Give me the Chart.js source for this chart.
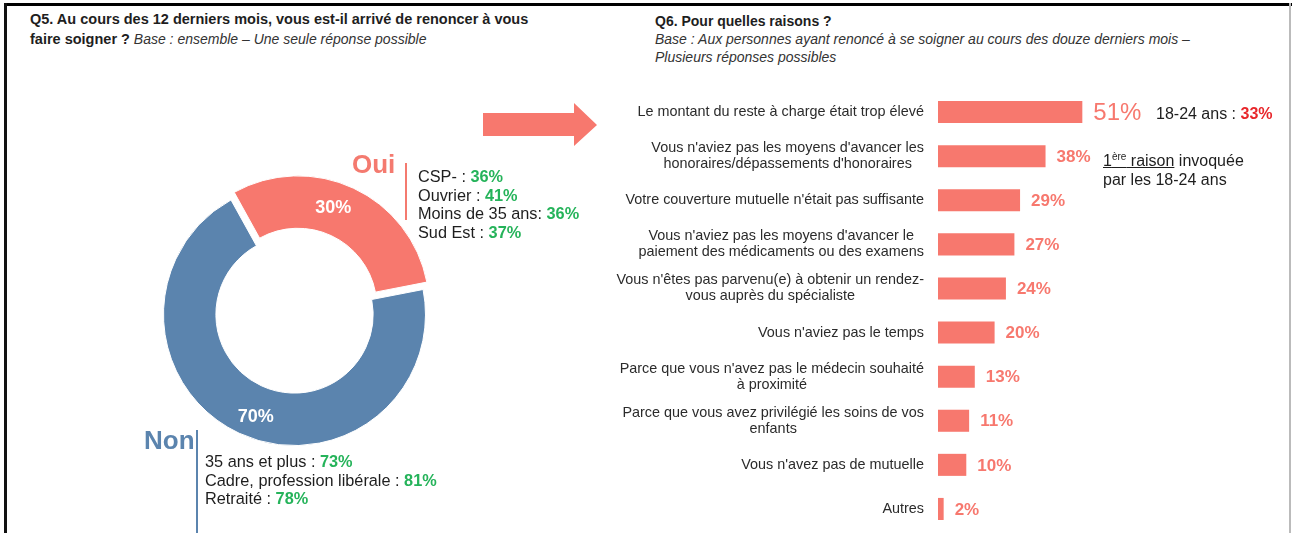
<!DOCTYPE html>
<html lang="fr">
<head>
<meta charset="utf-8">
<title>Renoncement aux soins</title>
<script src="https://cdn.jsdelivr.net/npm/chart.js@4.4.1/dist/chart.umd.min.js"></script>
<style>
    body { margin: 0; background: #fff; font-family: Arial, "Liberation Sans", sans-serif; }
    #page { position: relative; width: 1292px; height: 533px; overflow: hidden; background: #fff; }
    .frame-top { position: absolute; left: 4px; top: 3px; width: 1288px; height: 3px; background: #000; }
    .frame-left { position: absolute; left: 4px; top: 3px; width: 3px; height: 530px; background: #111; }
    .frame-right { position: absolute; left: 1289px; top: 3px; width: 2px; height: 530px; background: #bbb; }
    .t { position: absolute; white-space: nowrap; color: #1e1e1e; }
    .title { font-size: 14px; line-height: 19px; }
    .title b { font-weight: bold; }
    .title i { color: #333; }
    .big { font-size: 26px; font-weight: bold; }
    .note { font-size: 16.3px; line-height: 18.7px; }
    .g { color: #25b35a; font-weight: bold; }
    .r { color: #e8262b; font-weight: bold; }
    canvas { position: absolute; }
</style>
</head>
<body>
<div id="page">
    <div class="frame-top"></div>
    <div class="frame-left"></div>
    <div class="frame-right"></div>

    <div class="t title" style="left:30px; top:9px; line-height:20px;">
        <b style="font-size:14.5px;">Q5. Au cours des 12 derniers mois, vous est-il arrivé de renoncer à vous</b><br>
        <b style="font-size:14.5px;">faire soigner ?</b> <i>Base : ensemble – Une seule réponse possible</i>
    </div>
    <div class="t title" style="left:655px; top:12px; line-height:18px;">
        <b>Q6. Pour quelles raisons ?</b><br>
        <i>Base : Aux personnes ayant renoncé à se soigner au cours des douze derniers mois –</i><br>
        <i>Plusieurs réponses possibles</i>
    </div>

    <!-- fleche Q5 -> Q6 -->
    <svg style="position:absolute; left:0; top:0;" width="1292" height="533">
        <polygon points="483,113 574,113 574,103 597,125 574,146 574,136 483,136" fill="#f7786e"/>
    </svg>

    <canvas id="donut-chart" width="295" height="295" style="left:147px; top:167px;"></canvas>
    <canvas id="reasons-chart" width="692" height="448" style="left:600px; top:85px;"></canvas>

    <!-- annotations Oui -->
    <div class="t big" style="left:352px; top:149px; color:#f47a6f;">Oui</div>
    <div style="position:absolute; left:405px; top:163px; width:2px; height:57px; background:#f47a6f;"></div>
    <div class="t note" style="left:418px; top:167px;">
        CSP- : <span class="g">36%</span><br>
        Ouvrier : <span class="g">41%</span><br>
        Moins de 35 ans: <span class="g">36%</span><br>
        Sud Est : <span class="g">37%</span>
    </div>

    <!-- annotations Non -->
    <div class="t big" style="left:144px; top:425px; color:#5b84ae;">Non</div>
    <div style="position:absolute; left:196px; top:430px; width:2px; height:103px; background:#5b84ae;"></div>
    <div class="t note" style="left:205px; top:452px;">
        35 ans et plus : <span class="g">73%</span><br>
        Cadre, profession libérale : <span class="g">81%</span><br>
        Retraité : <span class="g">78%</span>
    </div>

    <!-- annotations Q6 -->
    <div class="t note" style="left:1156px; top:105px; font-size:16px;">18-24 ans : <span class="r">33%</span></div>
    <div class="t note" style="left:1103px; top:147px; font-size:16px; line-height:19px;">
        <u>1<sup style="font-size:10px;">ère</sup> raison</u> invoquée<br>
        par les 18-24 ans
    </div>
</div>

<script>
// Q5 - renoncement aux soins
const donutLabels = ['Oui', 'Non'];
const donutValues = [30, 70];
const donutColors = ['#f7786e', '#5b84ae'];

// Q6 - raisons du renoncement
const reasonLabels = [
    ['Le montant du reste à charge était trop élevé'],
    ["Vous n'aviez pas les moyens d'avancer les", "honoraires/dépassements d'honoraires"],
    ["Votre couverture mutuelle n'était pas suffisante"],
    ["Vous n'aviez pas les moyens d'avancer le", 'paiement des médicaments ou des examens'],
    ["Vous n'êtes pas parvenu(e) à obtenir un rendez-", 'vous auprès du spécialiste'],
    ["Vous n'aviez pas le temps"],
    ["Parce que vous n'avez pas le médecin souhaité", 'à proximité'],
    ['Parce que vous avez privilégié les soins de vos', 'enfants'],
    ["Vous n'avez pas de mutuelle"],
    ['Autres']
];
const reasonValues = [51, 38, 29, 27, 24, 20, 13, 11, 10, 2];

const SALMON = '#f7786e';

// Pourcentages blancs dans les parts du donut
const donutLabelPlugin = {
    id: 'donutLabels',
    afterDatasetsDraw(chart) {
        const ctx = chart.ctx;
        const meta = chart.getDatasetMeta(0);
        ctx.save();
        ctx.font = 'bold 18px Arial, "Liberation Sans", sans-serif';
        ctx.fillStyle = '#fff';
        ctx.textAlign = 'center';
        ctx.textBaseline = 'middle';
        meta.data.forEach((arc, i) => {
            const p = arc.getProps(['x', 'y', 'startAngle', 'endAngle', 'innerRadius', 'outerRadius'], true);
            const mid = (p.startAngle + p.endAngle) / 2 - 0.08;
            const r = p.innerRadius + (p.outerRadius - p.innerRadius) * 0.62;
            ctx.fillText(donutValues[i] + '%', p.x + Math.cos(mid) * r, p.y + Math.sin(mid) * r - 2);
        });
        ctx.restore();
    }
};

// Libelles des raisons (centres ligne a ligne, bloc cale a droite) + valeurs
const reasonTextPlugin = {
    id: 'reasonText',
    afterDatasetsDraw(chart) {
        const ctx = chart.ctx;
        const yScale = chart.scales.y;
        const meta = chart.getDatasetMeta(0);
        const rightEdge = yScale.right - 14;
        ctx.save();
        ctx.textBaseline = 'middle';

        ctx.font = '14.4px Arial, "Liberation Sans", sans-serif';
        ctx.fillStyle = '#2b2b2b';
        ctx.textAlign = 'center';
        reasonLabels.forEach((lines, i) => {
            const y = yScale.getPixelForTick(i);
            const w = Math.max(...lines.map(l => ctx.measureText(l).width));
            const cx = rightEdge - w / 2;
            const lh = 16;
            const y0 = y - (lines.length - 1) * lh / 2;
            lines.forEach((l, j) => ctx.fillText(l, cx, y0 + j * lh));
        });

        ctx.textAlign = 'left';
        ctx.fillStyle = SALMON;
        meta.data.forEach((bar, i) => {
            ctx.font = (i === 0 ? '24px' : 'bold 17px') + ' Arial, "Liberation Sans", sans-serif';
            ctx.fillText(reasonValues[i] + '%', bar.x + 11, bar.y + 1);
        });
        ctx.restore();
    }
};

function renderDonut() {
    const ctx = document.getElementById('donut-chart');
    new Chart(ctx.getContext('2d'), {
        type: 'doughnut',
        data: {
            labels: donutLabels,
            datasets: [{
                data: donutValues,
                backgroundColor: donutColors,
                borderColor: '#fff',
                borderWidth: 1,
                offset: [32, 0]
            }]
        },
        options: {
            responsive: false,
            animation: false,
            rotation: -29,
            cutout: '60%',
            plugins: { legend: { display: false }, tooltip: { enabled: false } }
        },
        plugins: [donutLabelPlugin]
    });
}

function renderReasons() {
    const ctx = document.getElementById('reasons-chart');
    new Chart(ctx.getContext('2d'), {
        type: 'bar',
        data: {
            labels: reasonLabels,
            datasets: [{
                data: reasonValues,
                backgroundColor: SALMON,
                barPercentage: 0.5,
                categoryPercentage: 1
            }]
        },
        options: {
            indexAxis: 'y',
            responsive: false,
            animation: false,
            layout: { padding: { top: 5, bottom: 2, right: 71, left: 0 } },
            scales: {
                x: { display: false, min: 0, max: 100 },
                y: {
                    grid: { display: false },
                    border: { display: false },
                    ticks: { display: false },
                    afterFit: function(scale) { scale.width = 338; }
                }
            },
            plugins: { legend: { display: false }, tooltip: { enabled: false } }
        },
        plugins: [reasonTextPlugin]
    });
}

renderDonut();
renderReasons();
</script>
</body>
</html>
